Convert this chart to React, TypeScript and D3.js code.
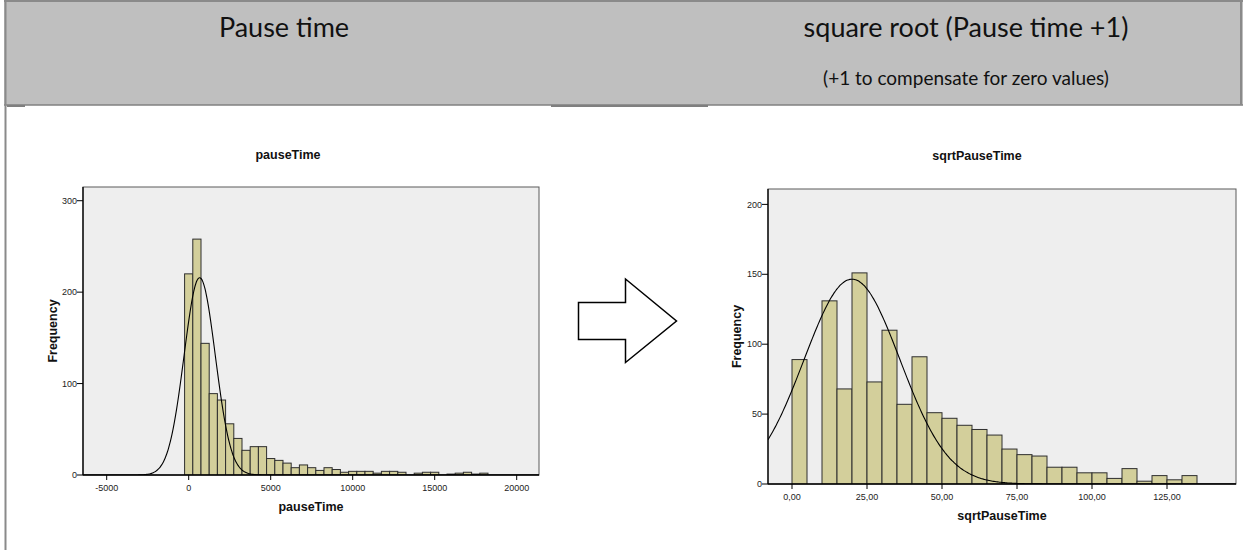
import React from "react";
import * as d3 from "d3";

// ---------- data ----------
// Left histogram: pauseTime (bins of 500 starting at -250)
const leftBinStart = -250;
const leftBinWidth = 500;
const leftFreq = [
  220, 258, 144, 89, 82, 56, 40, 27, 31, 31, 18, 16, 13, 8, 11, 8, 5, 8, 6, 3,
  4, 4, 4, 2, 4, 4, 3, 0, 2, 3, 3, 0, 1, 2, 3, 1, 2,
];
const leftXTicks = [-5000, 0, 5000, 10000, 15000, 20000];
const leftYTicks = [0, 100, 200, 300];
const leftCurve = { mean: 670, sd: 950, peak: 216 };

// Right histogram: sqrtPauseTime (bins of 5 starting at 0)
const rightBinStart = 0;
const rightBinWidth = 5;
const rightFreq = [
  89, 0, 131, 68, 151, 73, 110, 57, 91, 51, 47, 42, 39, 35, 25, 21, 20, 12, 12,
  8, 8, 4, 11, 2, 6, 3, 6,
];
const rightXTicks = [0, 25, 50, 75, 100, 125];
const rightXTickLabels = ["0,00", "25,00", "50,00", "75,00", "100,00", "125,00"];
const rightYTicks = [0, 50, 100, 150, 200];
const rightCurve = { mean: 20, sd: 16, peak: 146.5 };

const headerLeft = "Pause time";
const headerRight = "square root (Pause time +1)";
const headerRightSub = "(+1 to compensate for zero values)";

// ---------- styles ----------
const BAR_FILL = "#d3cf9b";
const BAR_STROKE = "#2e2e2e";
const PLOT_BG = "#eeeeee";
const TICK_FONT = "'Liberation Sans', Arial, sans-serif";

type HistProps = {
  id: string;
  box: { x0: number; x1: number; y0: number; y1: number };
  xDomain: [number, number];
  yDomain: [number, number];
  binStart: number;
  binWidth: number;
  freq: number[];
  xTicks: number[];
  xTickLabels: string[];
  yTicks: number[];
  curve: { mean: number; sd: number; peak: number };
  title: string;
  titleX: number;
  titleY: number;
  xTitle: string;
  yTitleX: number;
};

function Histogram(p: HistProps) {
  const x = d3.scaleLinear().domain(p.xDomain).range([p.box.x0, p.box.x1]);
  const y = d3.scaleLinear().domain(p.yDomain).range([p.box.y1, p.box.y0]);
  const bins = p.freq.map((f, i) => ({
    a: p.binStart + i * p.binWidth,
    b: p.binStart + (i + 1) * p.binWidth,
    f,
  }));
  const pts = d3
    .range(0, 401)
    .map((i) => p.xDomain[0] + ((p.xDomain[1] - p.xDomain[0]) * i) / 400);
  const line = d3
    .line<number>()
    .x((v) => x(v))
    .y((v) => y(p.curve.peak * Math.exp(-0.5 * ((v - p.curve.mean) / p.curve.sd) ** 2)))
    .curve(d3.curveBasis);
  const midX = (p.box.x0 + p.box.x1) / 2;
  const midY = (p.box.y0 + p.box.y1) / 2;
  return (
    <g>
      <defs>
        <clipPath id={p.id + "-clip"}>
          <rect x={p.box.x0} y={p.box.y0} width={p.box.x1 - p.box.x0} height={p.box.y1 - p.box.y0} />
        </clipPath>
      </defs>
      <rect
        x={p.box.x0}
        y={p.box.y0}
        width={p.box.x1 - p.box.x0}
        height={p.box.y1 - p.box.y0}
        fill={PLOT_BG}
        stroke="#5a5a5a"
        strokeWidth={1}
      />
      <g clipPath={`url(#${p.id}-clip)`}>
        {bins
          .filter((b) => b.f > 0)
          .map((b, i) => (
            <rect
              key={i}
              x={x(b.a)}
              y={y(b.f)}
              width={x(b.b) - x(b.a)}
              height={y(0) - y(b.f)}
              fill={BAR_FILL}
              stroke={BAR_STROKE}
              strokeWidth={1}
            />
          ))}
        <path d={line(pts) || ""} fill="none" stroke="#000" strokeWidth={1.1} />
      </g>
      {/* axes */}
      <line x1={p.box.x0} x2={p.box.x0} y1={p.box.y0} y2={p.box.y1} stroke="#000" strokeWidth={1.3} />
      <line x1={p.box.x0} x2={p.box.x1} y1={p.box.y1} y2={p.box.y1} stroke="#000" strokeWidth={1.3} />
      {p.yTicks.map((t) => (
        <g key={"y" + t}>
          <line x1={p.box.x0 - 6} x2={p.box.x0} y1={y(t)} y2={y(t)} stroke="#000" strokeWidth={1} />
          <text
            x={p.box.x0 - 6}
            y={y(t)}
            dy="0.35em"
            textAnchor="end"
            fontSize={9}
            fontFamily={TICK_FONT}
            fill="#222"
          >
            {t}
          </text>
        </g>
      ))}
      {p.xTicks.map((t, i) => (
        <g key={"x" + t}>
          <line x1={x(t)} x2={x(t)} y1={p.box.y1} y2={p.box.y1 + 5} stroke="#000" strokeWidth={1} />
          <text
            x={x(t)}
            y={p.box.y1 + 13}
            dy="0.35em"
            textAnchor="middle"
            fontSize={9}
            fontFamily={TICK_FONT}
            fill="#222"
          >
            {p.xTickLabels[i]}
          </text>
        </g>
      ))}
      <text
        x={midX}
        y={p.box.y1 + 32}
        dy="0.35em"
        textAnchor="middle"
        fontSize={12.5}
        fontWeight="bold"
        fontFamily={TICK_FONT}
        fill="#111"
      >
        {p.xTitle}
      </text>
      <text
        transform={`translate(${p.yTitleX},${midY}) rotate(-90)`}
        dy="0.35em"
        textAnchor="middle"
        fontSize={12.5}
        fontWeight="bold"
        fontFamily={TICK_FONT}
        fill="#111"
      >
        Frequency
      </text>
      <text
        x={p.titleX}
        y={p.titleY}
        dy="0.35em"
        textAnchor="middle"
        fontSize={12.5}
        fontWeight="bold"
        fontFamily={TICK_FONT}
        fill="#111"
      >
        {p.title}
      </text>
    </g>
  );
}

export default function App() {
  const W = 1243;
  const H = 550;
  const headerFont = "Lato, 'Open Sans', sans-serif";
  return (
    <svg
      width={W}
      height={H}
      style={{ position: "absolute", left: 0, top: 0, display: "block", background: "#fff" }}
    >
      {/* header band */}
      <rect x={4} y={0} width={W - 4} height={105} fill="#bfbfbf" />
      <line x1={4} x2={W} y1={1} y2={1} stroke="#8a8a8a" strokeWidth={2} />
      <line x1={4} x2={W} y1={105} y2={105} stroke="#808080" strokeWidth={1.5} />
      <line x1={W - 2} x2={W - 2} y1={0} y2={105} stroke="#8a8a8a" strokeWidth={2} />
      <line x1={5.5} x2={5.5} y1={0} y2={H} stroke="#8a8a8a" strokeWidth={2} />
      <line x1={7} x2={25} y1={106} y2={106} stroke="#7f7f7f" strokeWidth={2} />
      <line x1={551} x2={708} y1={106} y2={106} stroke="#7f7f7f" strokeWidth={2} />
      <text x={284} y={28} dy="0.35em" textAnchor="middle" fontSize={27} fontFamily={headerFont} fill="#111">
        {headerLeft}
      </text>
      <text x={966} y={28} dy="0.35em" textAnchor="middle" fontSize={27} fontFamily={headerFont} fill="#111">
        {headerRight}
      </text>
      <text x={966} y={78} dy="0.35em" textAnchor="middle" fontSize={19} fontFamily={headerFont} fill="#111">
        {headerRightSub}
      </text>

      <Histogram
        id="left"
        box={{ x0: 83, x1: 539, y0: 187, y1: 475 }}
        xDomain={[-6445, 21360]}
        yDomain={[0, 315]}
        binStart={leftBinStart}
        binWidth={leftBinWidth}
        freq={leftFreq}
        xTicks={leftXTicks}
        xTickLabels={leftXTicks.map(String)}
        yTicks={leftYTicks}
        curve={leftCurve}
        title="pauseTime"
        titleX={288}
        titleY={155}
        xTitle="pauseTime"
        yTitleX={53}
      />

      {/* arrow */}
      <path
        d="M578.5,302.5 L625.5,302.5 L625.5,279 L676.5,321 L625.5,362.5 L625.5,339.5 L578.5,339.5 Z"
        fill="#fff"
        stroke="#000"
        strokeWidth={1.5}
        strokeLinejoin="miter"
      />

      <Histogram
        id="right"
        box={{ x0: 768, x1: 1236, y0: 189, y1: 484 }}
        xDomain={[-8, 148]}
        yDomain={[0, 211]}
        binStart={rightBinStart}
        binWidth={rightBinWidth}
        freq={rightFreq}
        xTicks={rightXTicks}
        xTickLabels={rightXTickLabels}
        yTicks={rightYTicks}
        curve={rightCurve}
        title="sqrtPauseTime"
        titleX={977}
        titleY={156}
        xTitle="sqrtPauseTime"
        yTitleX={737}
      />
    </svg>
  );
}
